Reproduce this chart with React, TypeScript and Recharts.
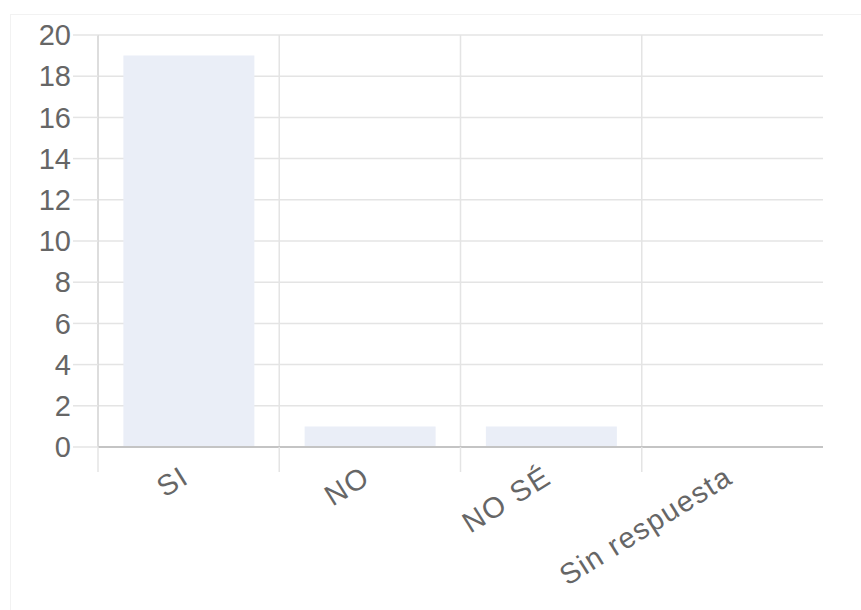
import React from "react";
import { BarChart, Bar, XAxis, YAxis, CartesianGrid } from "recharts";

// Survey answers and their counts
const categories = ["SI", "NO", "NO SÉ", "Sin respuesta"];
const counts = [19, 1, 1, 0];
const yTicks = [0, 2, 4, 6, 8, 10, 12, 14, 16, 18, 20];

const data = categories.map((name, i) => ({ name, value: counts[i] }));

const W = 861;
const H = 610;
const LEFT = 98;
const RIGHT = 38;
const TOP = 35;
const X_AXIS_H = 163;
const BAND = (W - LEFT - RIGHT) / categories.length;

const GRID = "#e4e4e4";
const TEXT = "#666666";
const FONT = "'Liberation Sans', Arial, sans-serif";
const FONT_SIZE = 29;
const TICK_SIZE = 25;
const TICK_MARGIN = 2;

// Category label, rotated, plus the boundary tick mark below the axis
const XTick = (props: any) => {
  const { x, y, payload } = props;
  const axisY = y - TICK_SIZE - TICK_MARGIN;
  const bx = x - BAND / 2;
  const lx = x + 2;
  const ly = axisY + 35;
  return (
    <g>
      <line x1={bx} y1={axisY} x2={bx} y2={axisY + TICK_SIZE} stroke={GRID} strokeWidth={1.5} />
      <text
        x={lx}
        y={ly}
        textAnchor="end"
        fill={TEXT}
        fontSize={FONT_SIZE}
        fontFamily={FONT}
        letterSpacing={1.5}
        transform={`rotate(-32, ${lx}, ${ly})`}
      >
        {payload.value}
      </text>
    </g>
  );
};

export default function App() {
  return (
    <div style={{ position: "absolute", left: 0, top: 0, width: W, height: H, background: "#fff" }}>
      <div
        style={{
          position: "absolute",
          left: 10,
          top: 14,
          width: W,
          height: H,
          border: "1px solid #f2f2f2",
        }}
      />
      <BarChart
        width={W}
        height={H}
        data={data}
        margin={{ top: TOP, right: RIGHT, left: 0, bottom: 0 }}
        barCategoryGap="14%"
        style={{ position: "absolute", left: 0, top: 0 }}
      >
        <CartesianGrid
          stroke={GRID}
          strokeWidth={1.5}
          verticalCoordinatesGenerator={({ offset }: any) =>
            categories.map((_, i) => offset.left + i * BAND)
          }
        />
        <XAxis
          dataKey="name"
          height={X_AXIS_H}
          interval={0}
          tickSize={TICK_SIZE}
          tickMargin={TICK_MARGIN}
          tickLine={false}
          axisLine={{ stroke: "#c4c4c4", strokeWidth: 2 }}
          tick={<XTick />}
        />
        <YAxis
          width={LEFT}
          domain={[0, 20]}
          ticks={yTicks}
          interval={0}
          tickSize={TICK_SIZE}
          tickMargin={TICK_MARGIN}
          tickLine={{ stroke: GRID, strokeWidth: 1.5 }}
          axisLine={{ stroke: "#d8d8d8", strokeWidth: 1.5 }}
          tick={{ fill: TEXT, fontSize: FONT_SIZE, fontFamily: FONT }}
        />
        <Bar dataKey="value" fill="#eaeef7" isAnimationActive={false} />
      </BarChart>
    </div>
  );
}
